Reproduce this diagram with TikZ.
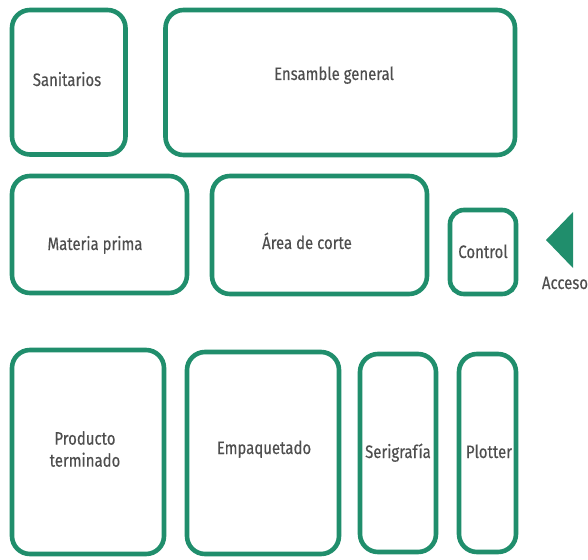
\documentclass[tikz,border=0pt]{standalone}
\usepackage{fontspec}
\setmainfont[FakeStretch=0.83,FakeBold=0.3]{Fira Sans}
\definecolor{roomgreen}{RGB}{32,142,108}
\definecolor{labelgray}{RGB}{78,78,78}
\begin{document}
\begin{tikzpicture}[x=1pt,y=-1pt,
  room/.style={draw=roomgreen,line width=4.6pt,rounded corners=18pt},
  smallroom/.style={room,rounded corners=14pt},
  lbl/.style={text=labelgray,font=\fontsize{18}{22}\selectfont,inner sep=0pt,align=center,anchor=base},
  arrowmark/.style={fill=roomgreen,draw=none}]
  \useasboundingbox (0,0) rectangle (588,559);
  % top row
  \draw[room] (12,10) rectangle (125.5,154.5);
  \draw[room] (165.5,10) rectangle (515,155);
  % middle row
  \draw[room] (12,176) rectangle (187,293);
  \draw[room] (212,176) rectangle (427,294);
  \draw[smallroom] (450,210) rectangle (516,294);
  % bottom row
  \draw[room] (12,350) rectangle (164,554);
  \draw[room] (187,352) rectangle (339,554);
  \draw[room] (360,354) rectangle (436,552);
  \draw[room] (459,354) rectangle (516,552);
  % entrance marker
  \coordinate (tipA) at (546,240);
  \coordinate (tipB) at (573,212);
  \coordinate (tipC) at (573,268);
  \fill[arrowmark] (tipA) -- (tipB) -- (tipC) -- cycle;
  % labels
  \node[lbl] (san) at (67,86) {Sanitarios};
  \node[lbl] (ens) at (334,80) {Ensamble general};
  \node[lbl] (mat) at (95,250) {Materia prima};
  \node[lbl] (cor) at (307,249) {Área de corte};
  \node[lbl] (ctl) at (483,258) {Control};
  \node[lbl] (acc) at (565,289) {Acceso};
  \node[lbl,anchor=center] (pro) at (85,449) {Producto\\terminado};
  \node[lbl] (emp) at (264,454) {Empaquetado};
  \node[lbl] (ser) at (398,458) {Serigrafía};
  \node[lbl] (plo) at (489,458) {Plotter};
\end{tikzpicture}
\end{document}
